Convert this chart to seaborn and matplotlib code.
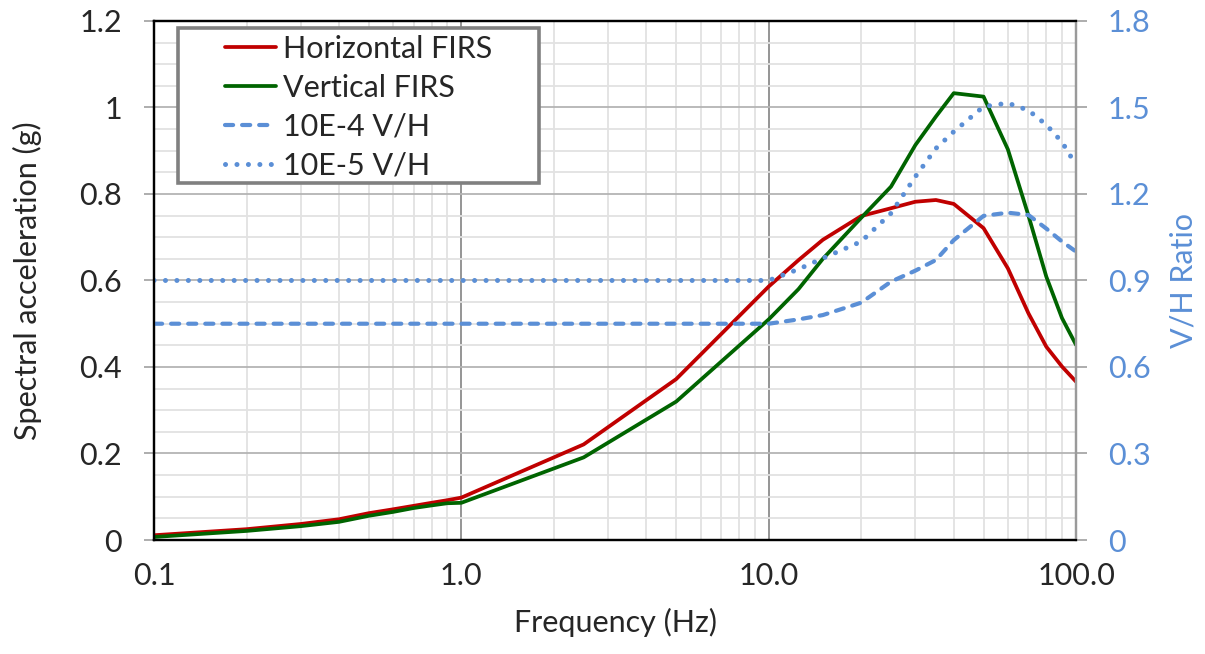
import numpy as np
import pandas as pd
import seaborn as sns
import matplotlib
matplotlib.use("Agg")
import matplotlib.pyplot as plt
from matplotlib.ticker import FixedLocator, NullFormatter, MultipleLocator
from matplotlib.patches import Rectangle

# ---------------- data ----------------
freq_h = [0.1, 0.2, 0.3, 0.4, 0.5, 0.6, 0.7, 0.8, 0.9, 1.0, 2.5, 5.0, 10.0, 12.5, 15.0,
          20.0, 25.0, 30.0, 35.0, 40.0, 50.0, 60.0, 70.0, 80.0, 90.0, 100.0]
horizontal = [0.011, 0.025, 0.037, 0.048, 0.062, 0.071, 0.079, 0.086, 0.092, 0.098, 0.221,
              0.372, 0.586, 0.647, 0.694, 0.749, 0.767, 0.782, 0.786, 0.777, 0.721, 0.628,
              0.524, 0.447, 0.401, 0.366]
vertical = [0.007, 0.021, 0.032, 0.042, 0.056, 0.065, 0.074, 0.080, 0.085, 0.086, 0.191,
            0.320, 0.510, 0.580, 0.650, 0.745, 0.817, 0.913, 0.979, 1.033, 1.025, 0.903,
            0.750, 0.609, 0.513, 0.451]

freq_vh = [0.1, 1.0, 10.0, 12.5, 15.0, 20.0, 25.0, 30.0, 35.0, 40.0, 50.0, 60.0, 70.0,
           80.0, 90.0, 100.0]
vh_1e4 = [0.75, 0.75, 0.75, 0.765, 0.78, 0.823, 0.896, 0.934, 0.971, 1.04, 1.124, 1.135,
          1.127, 1.08, 1.035, 1.00]
vh_1e5 = [0.90, 0.90, 0.90, 0.939, 0.977, 1.035, 1.133, 1.26, 1.358, 1.416, 1.503, 1.515,
          1.49, 1.44, 1.38, 1.30]

x_ticks = [0.1, 1.0, 10.0, 100.0]
x_tick_labels = ["0.1", "1.0", "10.0", "100.0"]
left_ticks = [0, 0.2, 0.4, 0.6, 0.8, 1.0, 1.2]
left_tick_labels = ["0", "0.2", "0.4", "0.6", "0.8", "1", "1.2"]
right_ticks = [0, 0.3, 0.6, 0.9, 1.2, 1.5, 1.8]
right_tick_labels = ["0", "0.3", "0.6", "0.9", "1.2", "1.5", "1.8"]
series_labels = ["Horizontal FIRS", "Vertical FIRS", "10E-4 V/H", "10E-5 V/H"]

df_acc = pd.DataFrame({"freq": freq_h, "Horizontal FIRS": horizontal, "Vertical FIRS": vertical})
df_vh = pd.DataFrame({"freq": freq_vh, "10E-4 V/H": vh_1e4, "10E-5 V/H": vh_1e5})

# ---------------- style ----------------
sns.set_style("white")
plt.rcParams["font.family"] = ["Lato", "DejaVu Sans"]

RED = "#C00000"
GREEN = "#006400"
BLUE = "#5B8FD6"
FS = 22

fig = plt.figure(figsize=(12.05, 6.54), dpi=100)
ax = fig.add_axes([0.1278, 0.1743, 0.7652, 0.7937])
ax2 = ax.twinx()

sns.lineplot(data=df_acc, x="freq", y="Horizontal FIRS", ax=ax, color=RED, lw=2.7,
             label=series_labels[0], legend=False)
sns.lineplot(data=df_acc, x="freq", y="Vertical FIRS", ax=ax, color=GREEN, lw=2.7,
             label=series_labels[1], legend=False)
sns.lineplot(data=df_vh, x="freq", y="10E-4 V/H", ax=ax2, color=BLUE, lw=3.0,
             label=series_labels[2], legend=False)
l_dash = ax2.lines[-1]
l_dash.set_dashes([1.95, 2.15])
l_dash.set_dash_capstyle("round")
sns.lineplot(data=df_vh, x="freq", y="10E-5 V/H", ax=ax2, color=BLUE, lw=3.6,
             label=series_labels[3], legend=False)
l_dot = ax2.lines[-1]
l_dot.set_dashes([0.01, 2.28])
l_dot.set_dash_capstyle("round")

for a in (ax, ax2):
    a.set_xscale("log")
    a.set_xlim(0.1, 100)

ax.set_ylim(0, 1.2)
ax2.set_ylim(0, 1.8)

# grid
ax.set_axisbelow(True)
ax.yaxis.set_major_locator(FixedLocator(left_ticks))
ax.yaxis.set_minor_locator(MultipleLocator(0.05))
ax.xaxis.set_major_locator(FixedLocator(x_ticks))
minor_x = [m * d for d in (0.1, 1, 10) for m in range(2, 10)]
ax.xaxis.set_minor_locator(FixedLocator(minor_x))
ax.xaxis.set_minor_formatter(NullFormatter())
ax.grid(which="minor", color="#E2E2E2", lw=1.3)
ax.grid(which="major", axis="y", color="#B4B4B4", lw=1.3)
ax.grid(which="major", axis="x", color="#8C8C8C", lw=1.3)

ax.set_xticks(x_ticks)
ax.set_xticklabels(x_tick_labels)
ax.set_yticks(left_ticks)
ax.set_yticklabels(left_tick_labels)
ax2.set_yticks(right_ticks)
ax2.set_yticklabels(right_tick_labels)
ax2.yaxis.set_minor_locator(FixedLocator([]))

ax.tick_params(axis="y", which="major", labelsize=FS, length=7, width=1.2,
               color="#A0A0A0", direction="out", pad=16)
ax.tick_params(axis="x", which="major", labelsize=FS, length=6, width=1.2,
               color="#A0A0A0", direction="out", pad=10)
ax.tick_params(which="minor", length=0)
ax2.tick_params(axis="y", which="major", labelsize=FS, length=8, width=1.2,
                color="#A0A0A0", direction="out", labelcolor=BLUE, pad=15)

ax.set_xlabel("Frequency (Hz)", fontsize=FS)
ax.set_ylabel("Spectral acceleration (g)", fontsize=FS)
ax2.set_ylabel("V/H Ratio", fontsize=FS, color=BLUE)
ax.xaxis.set_label_coords(0.5, -0.13)
ax.yaxis.set_label_coords(-0.121, 0.5)
ax2.yaxis.set_label_coords(1.101, 0.5)

for a in (ax, ax2):
    for s in a.spines.values():
        s.set_linewidth(1.6)
    a.spines["left"].set_color("black")
    a.spines["bottom"].set_color("black")
    a.spines["top"].set_color("black")
    a.spines["right"].set_color("#9A9A9A")

# legend (box drawn as a frame patch, Excel-style fixed size)
frame = Rectangle((0.026, 0.6879), 0.3915, 0.2987, transform=ax2.transAxes,
                  facecolor="white", edgecolor="#808080", lw=2.6, zorder=4.5)
ax2.add_patch(frame)
handles = ax.lines[:2] + ax2.lines[:2]
leg = ax2.legend(handles, series_labels, loc="upper left", bbox_to_anchor=(0.0775, 0.973),
                 fontsize=FS, frameon=False, handlelength=1.65,
                 handletextpad=0.22, labelspacing=0.36, borderpad=0, borderaxespad=0)
leg.set_zorder(6)

fig.savefig("out.png", dpi=100)
